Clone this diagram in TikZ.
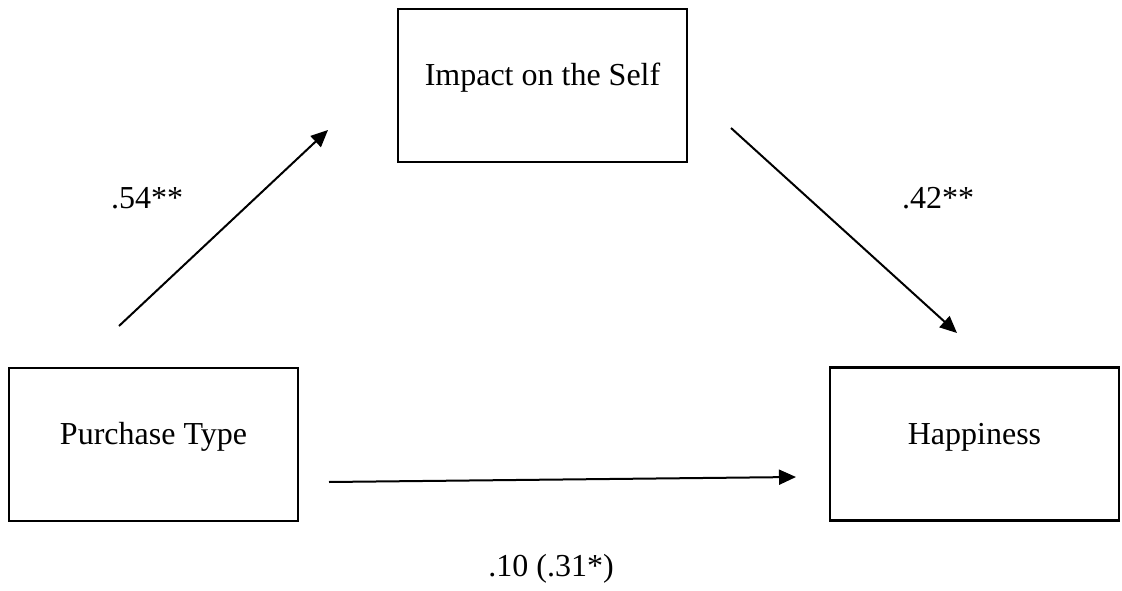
\documentclass[tikz,border=0pt]{standalone}
\usepackage{fontspec}
\setmainfont{Liberation Serif}
\usetikzlibrary{arrows.meta}
\begin{document}
\begin{tikzpicture}[x=1pt,y=-1pt,
  varbox/.style={draw=black,line width=2.2pt,rectangle,inner sep=0pt,
    minimum width=289pt,minimum height=153pt,
    text height=22pt,text depth=22pt,
    font=\fontsize{32}{38}\selectfont},
  coef/.style={anchor=base,inner sep=0pt,font=\fontsize{32}{38}\selectfont},
  path/.style={line width=2pt,-{Triangle[length=17pt,width=15pt]}}]
\useasboundingbox (0,0) rectangle (1122,591);
\node[varbox] (self) at (542.5,85.5) {Impact on the Self};
\node[varbox] (purchase) at (153.5,444.5) {Purchase Type};
\node[varbox] (happy) at (974.5,444) {Happiness};
\coordinate (p1s) at (119,326);
\coordinate (p1e) at (328,130);
\coordinate (p2s) at (731,128);
\coordinate (p2e) at (957,333);
\coordinate (p3s) at (329,482);
\coordinate (p3e) at (796,477);
\draw[path] (p1s) -- (p1e);
\draw[path] (p2s) -- (p2e);
\draw[path] (p3s) -- (p3e);
\node[coef] (c1) at (147,208) {.54**};
\node[coef] (c2) at (938,208) {.42**};
\node[coef] (c3) at (551,576) {.10 (.31*)};
\end{tikzpicture}
\end{document}
